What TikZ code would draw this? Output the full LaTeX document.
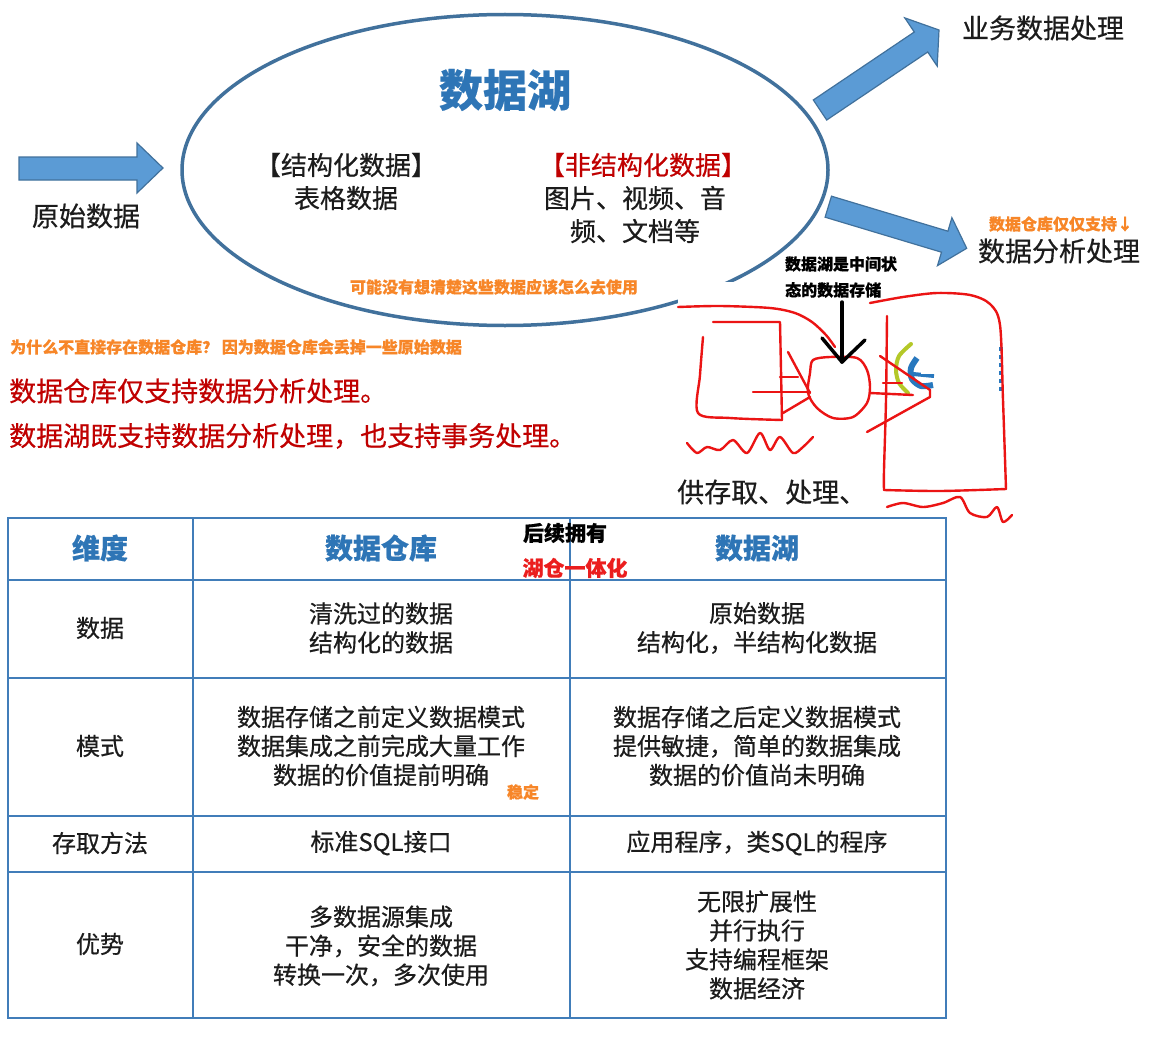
\documentclass[tikz,border=0pt]{standalone}
\usepackage{fontspec}
\setmainfont{Noto Sans CJK SC}[FakeBold=0.5]
\usetikzlibrary{shapes.geometric}
\definecolor{arrfill}{RGB}{91,155,213}
\definecolor{arrdraw}{RGB}{65,113,156}
\definecolor{ellc}{RGB}{65,113,156}
\definecolor{titleblue}{RGB}{46,117,182}
\definecolor{darkred}{RGB}{192,0,0}
\definecolor{brightred}{RGB}{235,30,30}
\definecolor{orng}{RGB}{247,134,40}
\definecolor{tblline}{RGB}{65,125,185}
\definecolor{txtc}{RGB}{28,28,28}
\definecolor{sketchred}{RGB}{235,20,20}
\definecolor{limeg}{RGB}{180,200,40}
\definecolor{logoblue}{RGB}{40,120,190}
\tikzset{
  blockarrow/.style={fill=arrfill, draw=arrdraw, line width=1.2pt, line join=miter},
  lbl/.style={inner sep=0pt, text=txtc},
  bigtxt/.style={lbl, font=\fontsize{27}{32}\selectfont},
  midtxt/.style={lbl, align=center, font=\fontsize{26}{33}\selectfont},
  orangetxt/.style={inner sep=0pt, text=orng, font=\bfseries\fontsize{16}{19}\selectfont},
  redtxt/.style={inner sep=0pt, text=darkred, anchor=west, font=\fontsize{27}{32}\selectfont},
  notetxt/.style={inner sep=1pt, fill=white, text=black, font=\bfseries\fontsize{16}{19}\selectfont},
  cell/.style={lbl, align=center, font=\fontsize{24}{29}\selectfont},
  headcell/.style={inner sep=0pt, text=titleblue, font=\bfseries\fontsize{28}{32}\selectfont},
  tbl/.style={draw=tblline, line width=1.8pt},
  pen/.style={draw=sketchred, line width=2.4pt, line cap=round, line join=round},
}
\begin{document}
\begin{tikzpicture}[x=1pt,y=-1pt]
\useasboundingbox[fill=white] (0,0) rectangle (1154,1057);

% ---------- arrows ----------
\draw[blockarrow] (19,157) -- (137,157) -- (137,143) -- (163,168) -- (137,193) -- (137,180) -- (19,180) -- cycle;
\draw[blockarrow] (813.3,100) -- (914.3,32) -- (904.8,17.9) -- (939,30) -- (937.2,66.1) -- (927.7,52) -- (826.7,120) -- cycle;
\draw[blockarrow] (831.5,196.2) -- (947.9,231.2) -- (951.9,217.7) -- (966.7,248.3) -- (937.5,265.6) -- (941.5,252.2) -- (825.1,217.2) -- cycle;

% ---------- lake ellipse ----------
\node[ellipse, draw=ellc, line width=3.5pt, minimum width=646pt, minimum height=311pt, inner sep=0pt] (lake) at (505,170) {};
\fill[white] (678,282) rectangle (880,345);

\node[inner sep=0pt, text=titleblue, font=\bfseries\fontsize{44}{50}\selectfont] (title) at (505,90) {数据湖};
\node[midtxt] (struct) at (346,181.5) {【结构化数据】\\表格数据};
\node[inner sep=0pt, text=darkred, font=\fontsize{26}{33}\selectfont] (unstructh) at (643,165) {【非结构化数据】};
\node[midtxt] (unstruct) at (635,214.5) {图片、视频、音\\频、文档等};
\node[orangetxt] (unsure) at (494,287) {可能没有想清楚这些数据应该怎么去使用};

\node[bigtxt] (raw) at (86,216) {原始数据};
\node[bigtxt] (biz) at (1043,28) {业务数据处理};
\node[bigtxt] (ana) at (1059,251) {数据分析处理};
\node[orangetxt] (onlyws) at (1061,224) {数据仓库仅仅支持↓};

% ---------- notes ----------
\node[orangetxt, anchor=west] (why) at (10,347) {为什么不直接存在数据仓库？ 因为数据仓库会丢掉一些原始数据};
\node[redtxt] (line1) at (9,391) {数据仓库仅支持数据分析处理。};
\node[redtxt] (line2) at (9,436) {数据湖既支持数据分析处理，也支持事务处理。};

% ---------- hand sketch ----------
\node[notetxt] (mid1) at (841,264) {数据湖是中间状};
\node[notetxt, anchor=west] (mid2) at (784,290) {态的数据存储};
\coordinate (arrtop) at (842,302);
\coordinate (arrtip) at (842,362);
% logo remnants
\draw[limeg, line width=4pt, line cap=round] plot[smooth] coordinates {(911,344) (899,356) (896,370) (899,383) (908,393)};
\draw[logoblue, line width=6pt] plot[smooth] coordinates {(917,358) (911,368) (912,379) (921,386) (933,385)};
\draw[logoblue, line width=4pt] (913,374) -- (934,376);
\fill[white] (921,340) rectangle (945,374);
\draw[logoblue, line width=4pt, dash pattern=on 4pt off 4pt] (1001,347) -- (1001,393);
% red strokes
\draw[pen] plot[smooth] coordinates {(678,307) (720,306) (770,308) (795,313) (812,322) (826,335) (835,347)};
\draw[pen] (713,322) -- (780,322) -- (781,370) -- (782,420);
\draw[pen] plot[smooth] coordinates {(703,337) (700,375) (698,413) (730,418) (782,420)};
\draw[pen] (780,377) -- (798,377);
\draw[pen] (753,392) -- (810,392);
\draw[pen] (788,352) -- (810,393);
\draw[pen] (783,413) -- (810,397);
\draw[pen] plot[smooth cycle] coordinates {(813,360) (830,357) (857,358) (867,370) (870,387) (867,403) (853,417) (833,418) (817,408) (808,393) (810,373)};
\draw[pen] (870,393) -- (913,395);
\draw[pen] (883,383) -- (902,383);
\draw[pen] (880,356) -- (930,390) -- (930,397) -- (867,432);
\draw[pen] plot[smooth] coordinates {(887,316) (886,400) (884,470) (884,490)};
\draw[pen] plot[smooth] coordinates {(884,490) (940,491) (1006,489)};
\draw[pen] plot[smooth] coordinates {(870,303) (903,297) (937,293) (970,295) (990,304) (1000,325) (1003,400) (1006,489)};
\draw[pen] plot[smooth] coordinates {(687,443) (697,453) (707,447) (720,450) (733,440) (747,453) (760,433) (770,450) (780,437) (793,453) (803,447) (813,437)};
\draw[pen] plot[smooth] coordinates {(887,507) (903,503) (923,507) (943,503) (960,497) (970,513) (987,517) (997,507) (1003,522) (1012,515)};
% black arrow
\draw[line width=3.5pt, line cap=round, line join=round] (arrtop) -- (arrtip);
\draw[line width=3.5pt, line cap=round, line join=round] (822,338) -- (arrtip) -- (865,340);
\node[bigtxt, anchor=west] (access) at (677,492) {供存取、处理、};

% ---------- table ----------
\draw[tbl] (8,518) rectangle (946,1018);
\draw[tbl] (193,518) -- (193,1018);
\draw[tbl] (570,518) -- (570,1018);
\draw[tbl] (8,580) -- (946,580);
\draw[tbl] (8,678) -- (946,678);
\draw[tbl] (8,816) -- (946,816);
\draw[tbl] (8,872) -- (946,872);

\node[headcell] (h1) at (100,548) {维度};
\node[headcell] (h2) at (381,548) {数据仓库};
\node[headcell] (h3) at (757,548) {数据湖};

\node[cell] (r1a) at (100,628) {数据};
\node[cell] (r1b) at (381,628) {清洗过的数据\\结构化的数据};
\node[cell] (r1c) at (757,628) {原始数据\\结构化，半结构化数据};

\node[cell] (r2a) at (100,746) {模式};
\node[cell] (r2b) at (381,746) {数据存储之前定义数据模式\\数据集成之前完成大量工作\\数据的价值提前明确};
\node[cell] (r2c) at (757,746) {数据存储之后定义数据模式\\提供敏捷，简单的数据集成\\数据的价值尚未明确};

\node[cell] (r3a) at (100,843) {存取方法};
\node[cell] (r3b) at (381,843) {标准SQL接口};
\node[cell] (r3c) at (757,843) {应用程序，类SQL的程序};

\node[cell] (r4a) at (100,944) {优势};
\node[cell] (r4b) at (381,946) {多数据源集成\\干净，安全的数据\\转换一次，多次使用};
\node[cell] (r4c) at (757,945) {无限扩展性\\并行执行\\支持编程框架\\数据经济};

\node[inner sep=0pt, text=black, font=\bfseries\fontsize{21}{24}\selectfont] (later) at (565,533) {后续拥有};
\node[inner sep=0pt, text=brightred, font=\bfseries\fontsize{21}{24}\selectfont] (lakehouse) at (575,568) {湖仓一体化};
\node[orangetxt] (stable) at (523,792) {稳定};
\end{tikzpicture}
\end{document}
